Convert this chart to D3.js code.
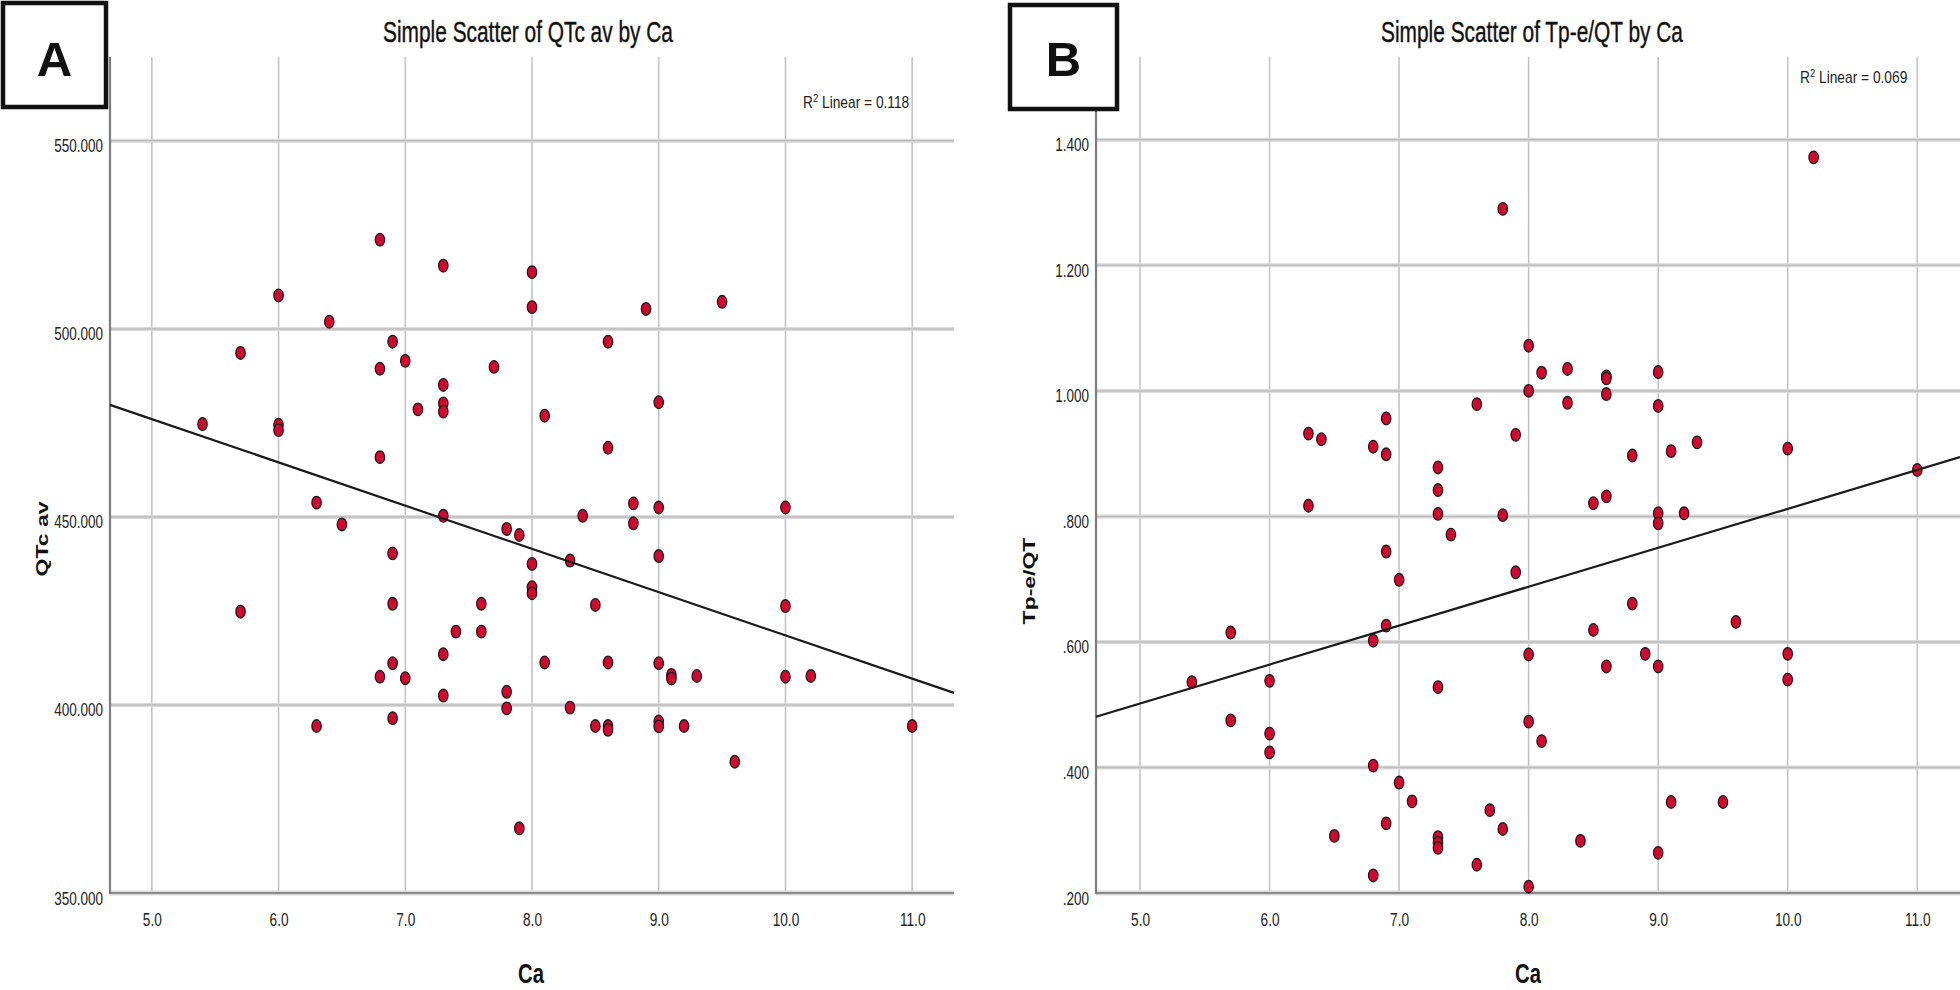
<!DOCTYPE html>
<html><head><meta charset="utf-8">
<script src="https://cdn.jsdelivr.net/npm/d3@7"></script>
<style>html,body{margin:0;padding:0;background:#fff;}svg{display:block;}</style>
</head><body>
<svg id="chart" width="1960" height="990"></svg>
<script>
// ---- data ----
const ca = [5.4,5.7,5.7,6.0,6.0,6.0,6.3,6.3,6.4,6.5,6.8,6.8,6.8,6.8,6.9,6.9,6.9,6.9,6.9,7.0,7.0,7.1,7.3,7.3,7.3,7.3,7.3,7.3,7.3,7.4,7.6,7.6,7.7,7.8,7.8,7.8,7.9,7.9,8.0,8.0,8.0,8.0,8.0,8.1,8.1,8.3,8.3,8.4,8.5,8.5,8.6,8.6,8.6,8.6,8.6,8.8,8.8,8.9,9.0,9.0,9.0,9.0,9.0,9.0,9.1,9.1,9.2,9.3,9.5,9.6,10.0,10.0,10.0,10.2,11.0];
const qtcAv = [474.7,493.6,424.8,508.9,474.5,473.1,453.8,394.4,501.9,448.0,523.7,489.4,465.9,407.5,496.6,440.3,426.9,411.1,396.5,491.5,407.1,478.6,516.8,485.1,480.2,478.0,450.3,413.5,402.5,419.5,426.9,419.5,489.9,446.8,403.5,399.1,445.2,367.2,515.1,505.8,437.5,431.3,429.7,476.9,411.3,438.4,399.3,450.3,426.6,394.4,496.6,468.4,411.3,394.4,393.4,453.6,448.3,505.3,480.5,452.5,439.6,411.1,395.6,394.3,408.0,407.0,394.4,407.7,507.2,384.9,452.5,426.3,407.5,407.7,394.4];
const tpeQt = [0.536,0.615,0.475,0.538,0.454,0.424,0.932,0.817,0.923,0.291,0.911,0.602,0.403,0.228,0.956,0.899,0.744,0.626,0.311,0.699,0.376,0.346,0.878,0.842,0.804,0.528,0.289,0.280,0.272,0.771,0.979,0.245,0.332,1.290,0.802,0.302,0.930,0.711,1.072,1.000,0.580,0.473,0.210,1.029,0.442,1.035,0.981,0.283,0.821,0.619,1.023,1.020,0.995,0.832,0.561,0.897,0.661,0.581,1.030,0.976,0.805,0.789,0.561,0.264,0.904,0.345,0.805,0.918,0.345,0.632,0.908,0.581,0.540,1.372,0.874];
const xTicks = [5, 6, 7, 8, 9, 10, 11];
const yTicksA = [350, 400, 450, 500, 550];
const yTicksB = [0.2, 0.4, 0.6, 0.8, 1.0, 1.2, 1.4];
const fitA = [533.5, -11.5];   // intercept, slope
const fitB = [0.192, 0.062];
const titles = ["Simple Scatter of QTc av by Ca", "Simple Scatter of Tp-e/QT by Ca"];
const yTitles = ["QTc av", "Tp-e/QT"];
const xTitle = "Ca";
const r2Values = ["0.118", "0.069"];
const panelLetters = ["A", "B"];

// ---- drawing ----
const FONT = "'Liberation Sans', Arial, sans-serif";
const svg = d3.select("#chart");
svg.append("rect").attr("width", 1960).attr("height", 990).attr("fill", "#fff");

function drawPanel(cfg) {
  const g = svg.append("g");
  const x = d3.scaleLinear().domain(cfg.xDomain).range([cfg.left, cfg.right]);
  const y = d3.scaleLinear().domain(cfg.yDomain).range([cfg.bottom, cfg.top]);

  // vertical grid
  g.append("g").selectAll("line").data(xTicks).join("line")
    .attr("x1", d => x(d)).attr("x2", d => x(d))
    .attr("y1", cfg.top).attr("y2", cfg.bottom)
    .attr("stroke", "#c4c4c4").attr("stroke-width", 1.6);
  // horizontal grid
  const hg = cfg.yTicks.filter(d => d !== cfg.yDomain[0]);
  g.append("g").selectAll("line").data(hg).join("line")
    .attr("x1", cfg.left).attr("x2", cfg.right)
    .attr("y1", d => y(d)).attr("y2", d => y(d))
    .attr("stroke", "#dadada").attr("stroke-width", 4);
  g.append("g").selectAll("line").data(hg).join("line")
    .attr("x1", cfg.left).attr("x2", cfg.right)
    .attr("y1", d => y(d)).attr("y2", d => y(d))
    .attr("stroke", "#bdbdbd").attr("stroke-width", 1.5);

  // axis lines
  g.append("line").attr("x1", cfg.left).attr("x2", cfg.right)
    .attr("y1", cfg.bottom).attr("y2", cfg.bottom)
    .attr("stroke", "#dadada").attr("stroke-width", 5);
  g.append("line").attr("x1", cfg.left).attr("x2", cfg.right)
    .attr("y1", cfg.bottom).attr("y2", cfg.bottom)
    .attr("stroke", "#8c8c8c").attr("stroke-width", 2.2);
  g.append("line").attr("x1", cfg.left).attr("x2", cfg.left)
    .attr("y1", cfg.top).attr("y2", cfg.bottom + 1)
    .attr("stroke", "#7d7d7d").attr("stroke-width", 2.2);

  // x axis labels
  const xa = g.append("g").attr("transform", `translate(0,${cfg.bottom})`)
    .call(d3.axisBottom(x).tickValues(xTicks).tickFormat(d3.format(".1f")).tickSize(0));
  xa.select(".domain").remove();
  xa.selectAll("text").attr("y", 0).attr("dy", 0)
    .attr("transform", "translate(0,33) scale(0.72,1)")
    .style("font-family", FONT).style("font-size", "19px").attr("fill", "#222");

  // y axis labels
  const ya = g.append("g").attr("transform", `translate(${cfg.left},0)`)
    .call(d3.axisLeft(y).tickValues(cfg.yTicks).tickFormat(cfg.fmt).tickSize(0));
  ya.select(".domain").remove();
  ya.selectAll("text").attr("x", 0).attr("dy", 0)
    .attr("text-anchor", "end")
    .attr("transform", "translate(-7,11) scale(0.75,1)")
    .style("font-family", FONT).style("font-size", "18px").attr("fill", "#222");

  // points
  g.append("g").selectAll("ellipse").data(cfg.xs.map((d, i) => [d, cfg.ys[i]])).join("ellipse")
    .attr("cx", d => x(d[0])).attr("cy", d => y(d[1]))
    .attr("rx", 4.7).attr("ry", 6.3)
    .attr("fill", "#d8062f").attr("stroke", "#1b1b1b").attr("stroke-width", 1.3);

  // fit line
  const line = d3.line().x(d => x(d)).y(d => y(cfg.fit[0] + cfg.fit[1] * d));
  g.append("path").datum(cfg.xDomain).attr("d", line)
    .attr("fill", "none").attr("stroke", "#1a1a1a").attr("stroke-width", 2.2);

  // title
  g.append("text").attr("transform", `translate(${cfg.titleX},42) scale(0.72,1)`)
    .attr("text-anchor", "middle").style("font-family", FONT).style("font-size", "29px")
    .attr("fill", "#111").attr("stroke", "#111").attr("stroke-width", 0.4).text(cfg.title);

  // R2 text
  const r = g.append("text").attr("transform", `translate(${cfg.r2X},${cfg.r2Y}) scale(0.86,1)`)
    .style("font-family", FONT).style("font-size", "16px").attr("fill", "#222");
  r.append("tspan").text("R");
  r.append("tspan").attr("dy", -6).style("font-size", "11px").text("2");
  r.append("tspan").attr("dy", 6).text(" Linear = " + cfg.r2);

  // x title
  g.append("text").attr("transform", `translate(${cfg.xTitleX},983) scale(0.75,1)`)
    .attr("text-anchor", "middle").style("font-family", FONT).style("font-size", "27px")
    .style("font-weight", "bold").attr("fill", "#111").text(xTitle);

  // y title
  g.append("text").attr("transform", `translate(${cfg.yTitleX},${cfg.yTitleY}) rotate(-90) scale(1,0.75)`)
    .attr("text-anchor", "middle").style("font-family", FONT).style("font-size", "23px")
    .style("font-weight", "bold").attr("fill", "#111").text(cfg.yTitle);

  // panel letter box
  g.append("rect").attr("x", cfg.box[0]).attr("y", cfg.box[1])
    .attr("width", cfg.box[2]).attr("height", cfg.box[3])
    .attr("fill", "#fff").attr("stroke", "#111").attr("stroke-width", 4.5);
  g.append("text").attr("x", cfg.box[0] + cfg.box[2] / 2).attr("y", 76)
    .attr("text-anchor", "middle").style("font-family", FONT).style("font-size", "49px")
    .style("font-weight", "bold").attr("fill", "#111").text(cfg.letter);
}

const fmtB = d => d3.format(".3f")(d).replace(/^0\./, ".");

drawPanel({
  left: 110, right: 954, top: 57, bottom: 893,
  xDomain: [4.67, 11.33], yDomain: [350, 572.3], yTicks: yTicksA, fmt: d3.format(".3f"),
  xs: ca, ys: qtcAv, fit: fitA, title: titles[0], titleX: 528, r2: r2Values[0], r2X: 803, r2Y: 108,
  xTitleX: 531, yTitle: yTitles[0], yTitleX: 48, yTitleY: 539, box: [3, 3, 103, 104], letter: panelLetters[0]
});
drawPanel({
  left: 1096, right: 1960, top: 57, bottom: 893,
  xDomain: [4.66, 11.33], yDomain: [0.2, 1.532], yTicks: yTicksB, fmt: fmtB,
  xs: ca, ys: tpeQt, fit: fitB, title: titles[1], titleX: 1532, r2: r2Values[1], r2X: 1800, r2Y: 83,
  xTitleX: 1528, yTitle: yTitles[1], yTitleX: 1035, yTitleY: 581, box: [1010, 5, 107, 104], letter: panelLetters[1]
});
</script>
</body></html>
